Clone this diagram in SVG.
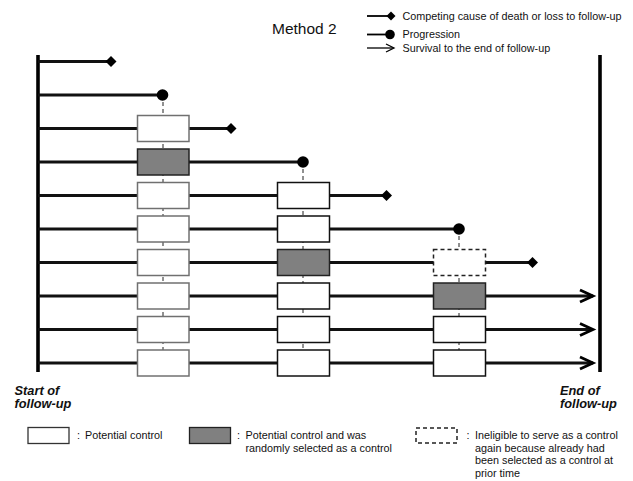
<svg xmlns="http://www.w3.org/2000/svg" width="633" height="481" viewBox="0 0 633 481">
<defs>
<style>
.t{font-family:"Liberation Sans",Arial,sans-serif;font-size:10.8px;fill:#111}
.ti{font-family:"Liberation Sans",Arial,sans-serif;font-size:12.8px;font-weight:bold;font-style:italic;fill:#111}
.h{stroke:#111;stroke-width:2.8;fill:none}
.bar{stroke:#000;stroke-width:3.6}
.dv{stroke:#222;stroke-width:1;stroke-dasharray:4 3;fill:none}
.bw1{fill:#fff;stroke:#707070;stroke-width:1.5}
.bw{fill:#fff;stroke:#111;stroke-width:1.5}
.bg{fill:#808080;stroke:#222;stroke-width:1.5}
.bd{fill:#fff;stroke:#222;stroke-width:1.5;stroke-dasharray:4 3}
.dot{fill:#000}
.chev{stroke:#000;stroke-width:2.8;fill:none}
</style>
</defs>
<rect width="633" height="481" fill="#fff"/>

<g id="title"><text x="272" y="33.5" style="font-family:'Liberation Sans',Arial,sans-serif;font-size:15.5px;fill:#111">Method 2</text></g>

<g id="legend-top">
<line x1="367" y1="16" x2="391" y2="16" stroke="#000" stroke-width="1.8"/>
<path class="dot" d="M391,11.5 L395.5,16 L391,20.5 L386.5,16 Z"/>
<text class="t" x="402.5" y="20">Competing cause of death or loss to follow-up</text>
<line x1="367" y1="34.5" x2="388" y2="34.5" stroke="#000" stroke-width="1.8"/>
<circle class="dot" cx="390" cy="34.5" r="4.8"/>
<text class="t" x="402.5" y="38">Progression</text>
<line x1="367" y1="48" x2="393" y2="48" stroke="#000" stroke-width="1.3"/>
<path d="M386,44 L394,48 L386,52" stroke="#000" stroke-width="1.3" fill="none"/>
<text class="t" x="402.5" y="52">Survival to the end of follow-up</text>
</g>

<g id="bars">
<line class="bar" x1="38" y1="55" x2="38" y2="372"/>
<line class="bar" x1="600" y1="55" x2="600" y2="372"/>
</g>

<g id="connectors">
<line class="dv" x1="163" y1="95" x2="163" y2="363"/>
<line class="dv" x1="303" y1="162" x2="303" y2="363"/>
<line class="dv" x1="459" y1="229" x2="459" y2="363"/>
<line class="h" x1="38" y1="61.5" x2="110" y2="61.5"/>
<line class="h" x1="38" y1="95" x2="162" y2="95"/>
<line class="h" x1="38" y1="128.5" x2="230" y2="128.5"/>
<line class="h" x1="38" y1="162" x2="302" y2="162"/>
<line class="h" x1="38" y1="195.5" x2="386" y2="195.5"/>
<line class="h" x1="38" y1="229" x2="459" y2="229"/>
<line class="h" x1="38" y1="262.5" x2="532" y2="262.5"/>
<line class="h" x1="38" y1="296" x2="593" y2="296"/>
<line class="h" x1="38" y1="329.5" x2="593" y2="329.5"/>
<line class="h" x1="38" y1="363" x2="593" y2="363"/>
<path class="chev" d="M580,290 L593,296 L580,302"/>
<path class="chev" d="M580,323.5 L593,329.5 L580,335.5"/>
<path class="chev" d="M580,357 L593,363 L580,369"/>
</g>

<g id="events">
<path class="dot" d="M111,56 L116.5,61.5 L111,67 L105.5,61.5 Z"/>
<circle class="dot" cx="162.5" cy="95" r="5.8"/>
<path class="dot" d="M231,123 L236.5,128.5 L231,134 L225.5,128.5 Z"/>
<circle class="dot" cx="303" cy="162" r="5.8"/>
<path class="dot" d="M386.5,190 L392,195.5 L386.5,201 L381,195.5 Z"/>
<circle class="dot" cx="459" cy="229" r="5.8"/>
<path class="dot" d="M532.5,257 L538,262.5 L532.5,268 L527,262.5 Z"/>
</g>

<g id="col1">
<rect class="bw1" x="137.5" y="115.5" width="51.5" height="26"/>
<rect class="bg" x="137.5" y="149" width="51.5" height="26"/>
<rect class="bw1" x="137.5" y="182.5" width="51.5" height="26"/>
<rect class="bw1" x="137.5" y="216" width="51.5" height="26"/>
<rect class="bw1" x="137.5" y="249.5" width="51.5" height="26"/>
<rect class="bw1" x="137.5" y="283" width="51.5" height="26"/>
<rect class="bw1" x="137.5" y="316.5" width="51.5" height="26"/>
<rect class="bw1" x="137.5" y="350" width="51.5" height="26"/>
</g>
<g id="col2">
<rect class="bw" x="277.5" y="182.5" width="52" height="26"/>
<rect class="bw" x="277.5" y="216" width="52" height="26"/>
<rect class="bg" x="277.5" y="249.5" width="52" height="26"/>
<rect class="bw" x="277.5" y="283" width="52" height="26"/>
<rect class="bw" x="277.5" y="316.5" width="52" height="26"/>
<rect class="bw" x="277.5" y="350" width="52" height="26"/>
</g>
<g id="col3">
<rect class="bd" x="433.5" y="249.5" width="52" height="26"/>
<rect class="bg" x="433.5" y="283" width="52" height="26"/>
<rect class="bw" x="433.5" y="316.5" width="52" height="26"/>
<rect class="bw" x="433.5" y="350" width="52" height="26"/>
</g>

<g id="axis-labels">
<text class="ti" x="14.5" y="394.5">Start of</text>
<text class="ti" x="14.5" y="408">follow-up</text>
<text class="ti" x="560" y="394.5">End of</text>
<text class="ti" x="560" y="408">follow-up</text>
</g>

<g id="legend-bottom">
<rect x="28" y="427.5" width="41" height="16" fill="#fff" stroke="#333" stroke-width="1.3"/>
<text class="t" x="77" y="439">:</text>
<text class="t" x="85" y="439">Potential control</text>
<rect x="189.5" y="427.5" width="41" height="16" fill="#808080" stroke="#222" stroke-width="1.3"/>
<text class="t" x="237" y="439">:</text>
<text class="t" x="245.5" y="439">Potential control and was</text>
<text class="t" x="245.5" y="452">randomly selected as a control</text>
<rect x="416" y="428" width="41" height="15" fill="#fff" stroke="#222" stroke-width="1.5" stroke-dasharray="4 3"/>
<text class="t" x="466.5" y="439">:</text>
<text class="t" x="475" y="439">Ineligible to serve as a control</text>
<text class="t" x="475" y="451.5">again because already had</text>
<text class="t" x="475" y="464">been selected as a control at</text>
<text class="t" x="475" y="476.5">prior time</text>
</g>
</svg>
